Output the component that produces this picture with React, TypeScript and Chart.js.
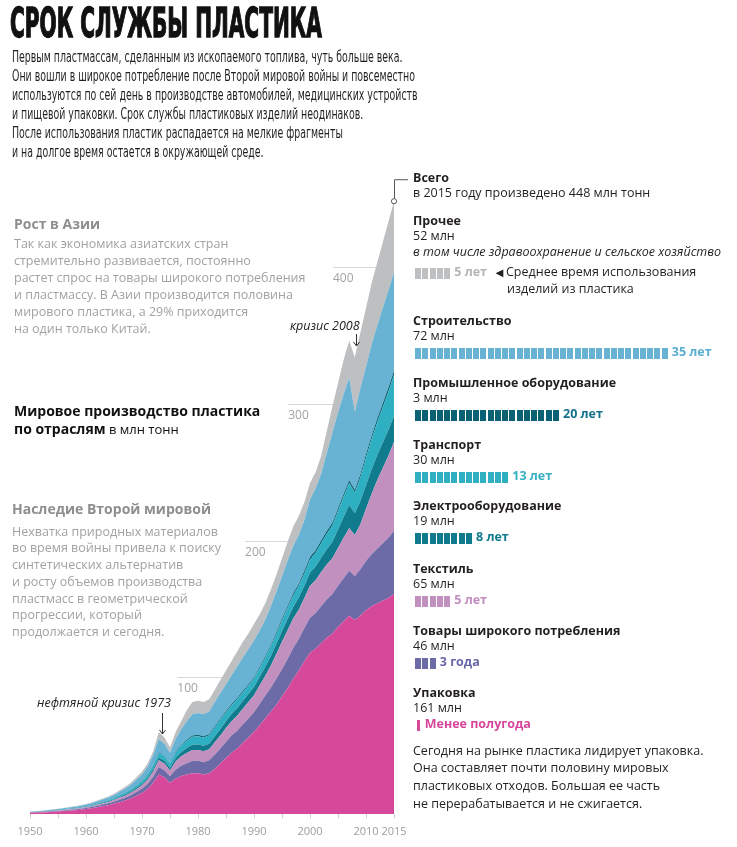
import React, { useEffect, useRef } from "react";
import { Chart, registerables } from "chart.js";

Chart.register(...registerables);

// ---------- DATA ----------
const YEARS = [
  1950, 1951, 1952, 1953, 1954, 1955, 1956, 1957, 1958, 1959,
  1960, 1961, 1962, 1963, 1964, 1965, 1966, 1967, 1968, 1969,
  1970, 1971, 1972, 1973, 1974, 1975, 1976, 1977, 1978, 1979,
  1980, 1981, 1982, 1983, 1984, 1985, 1986, 1987, 1988, 1989,
  1990, 1991, 1992, 1993, 1994, 1995, 1996, 1997, 1998, 1999,
  2000, 2001, 2002, 2003, 2004, 2005, 2006, 2007, 2008, 2009,
  2010, 2011, 2012, 2013, 2014, 2015,
];

// million tonnes per year, by sector (stack order bottom -> top)
const PACKAGING = [
  1, 1.15, 1.3, 1.5, 1.75, 2, 2.3, 2.6, 2.9, 3.3,
  3.8, 4.3, 5, 5.8, 6.6, 7.6, 8.8, 10, 11.5, 13.5,
  15.5, 18.5, 23, 29, 27, 23, 26, 28, 29, 30,
  30, 29, 30, 33, 37, 41, 45, 48, 52, 56,
  60, 65, 70, 75, 80, 86, 92, 99, 105, 112,
  118, 121, 125, 129, 132, 137, 141, 145, 142, 145,
  149, 152, 154, 156, 158, 161,
];
const CONSUMER = [
  0.2, 0.23, 0.26, 0.3, 0.35, 0.4, 0.46, 0.52, 0.6, 0.68,
  0.8, 0.9, 1.05, 1.2, 1.35, 1.55, 1.8, 2, 2.3, 2.7,
  3.1, 3.6, 4.4, 5.5, 5.2, 5, 6.5, 7.5, 8.3, 9,
  9, 9, 9.5, 10.5, 11, 12, 12.5, 13, 13.5, 14,
  14.5, 15.5, 16.5, 17.5, 19, 20, 21.5, 22.5, 23, 24,
  25.5, 26, 27, 28, 29, 30, 31.5, 33, 32, 34,
  36, 38, 40, 42, 44, 46,
];
const TEXTILES = [
  0.2, 0.2, 0.22, 0.25, 0.3, 0.33, 0.38, 0.43, 0.47, 0.52,
  0.6, 0.7, 0.8, 0.9, 1, 1.15, 1.35, 1.55, 1.8, 2.1,
  2.5, 3, 3.8, 5, 4.8, 4, 6, 6.8, 7.5, 8,
  8, 8, 8, 9, 9.5, 10, 10.5, 11, 11.5, 12,
  12.5, 13.5, 14.5, 16, 18, 20, 21, 21.5, 21.5, 22,
  23.5, 24, 25, 25.5, 26, 27.5, 29.5, 31, 30, 33,
  38, 44, 50, 55, 60, 65,
];
const ELECTRICAL = [
  0.1, 0.1, 0.12, 0.13, 0.15, 0.17, 0.19, 0.21, 0.23, 0.26,
  0.3, 0.35, 0.4, 0.45, 0.5, 0.6, 0.7, 0.8, 0.9, 1.05,
  1.2, 1.4, 1.7, 2, 2, 2, 2.5, 3, 3.5, 3.8,
  4, 4, 4, 4.4, 4.7, 5, 5.2, 5.5, 5.7, 5.9,
  6, 6.3, 6.6, 7, 7.4, 7.8, 8.2, 8.5, 8.8, 9,
  9.5, 10, 10.5, 11.2, 12, 13.5, 15, 17, 16, 17,
  17.5, 18, 18.3, 18.6, 18.8, 19,
];
const TRANSPORT = [
  0.1, 0.12, 0.15, 0.18, 0.2, 0.24, 0.28, 0.32, 0.36, 0.4,
  0.5, 0.55, 0.65, 0.75, 0.85, 1, 1.15, 1.3, 1.5, 1.75,
  2, 2.4, 2.9, 3.5, 3.3, 3, 4, 4.7, 5.4, 5.8,
  6, 6, 6.2, 6.6, 6.8, 6.5, 6.3, 6.5, 6.3, 6.1,
  6, 6.2, 6.4, 6.8, 7.2, 7.6, 8, 8.3, 8.6, 9,
  9.5, 10, 10.5, 11.3, 12, 13.5, 15, 16, 15, 17,
  20, 22, 24, 26, 28, 30,
];
const INDUSTRIAL = [
  0.02, 0.02, 0.03, 0.04, 0.05, 0.06, 0.06, 0.07, 0.08, 0.09,
  0.1, 0.1, 0.1, 0.1, 0.1, 0.1, 0.15, 0.15, 0.2, 0.25,
  0.3, 0.35, 0.4, 0.5, 0.5, 0.5, 0.6, 0.7, 0.8, 0.9,
  1, 1, 1, 1, 1, 1, 1, 1, 1, 1,
  1, 1, 1.2, 1.2, 1.4, 1.5, 1.5, 1.6, 1.6, 2,
  2, 2, 2, 2, 2, 2, 2, 2, 2, 2.5,
  2.5, 2.5, 2.7, 2.8, 2.9, 3,
];
const CONSTRUCTION = [
  0.25, 0.3, 0.34, 0.4, 0.47, 0.54, 0.63, 0.7, 0.78, 0.86,
  1, 1.1, 1.4, 1.6, 1.8, 2.1, 2.45, 2.9, 3.3, 3.9,
  4.5, 5.5, 7, 9.5, 8.7, 7.5, 9.4, 11.3, 13.5, 15.5,
  16, 16, 16.3, 17.5, 18.5, 19.5, 21, 23, 24.5, 25.5,
  27, 26.5, 26.8, 28.5, 29.5, 31.1, 33.3, 34.6, 35.5, 37,
  42, 45, 49, 57, 66, 70, 73, 75, 57, 63,
  64, 67, 68, 69.6, 71.3, 72,
];
const OTHER = [
  0.13, 0.18, 0.18, 0.2, 0.23, 0.26, 0.3, 0.35, 0.38, 0.39,
  0.4, 0.5, 0.6, 0.7, 0.8, 0.9, 1.1, 1.3, 1.5, 1.75,
  1.9, 2.25, 2.8, 5, 4.5, 4, 5, 6, 8, 9,
  9, 9, 9, 9, 9.5, 10, 10.5, 11, 11.5, 11.5,
  12, 12, 12, 12, 12.5, 13, 13.5, 14, 14, 13,
  12, 12, 13, 16, 19, 21.5, 25, 27, 40, 40.5,
  43, 44.5, 46, 48, 50, 52,
];

const TOTAL_YEAR = 2015;
const TOTAL_VALUE = 448;

const Y_GRID = [100, 200, 300, 400];
const Y_GRID_FROM_YEAR = [1976.3, 1988.4, 1996.1, 2004.1];
const X_TICK_LABELS = [1950, 1960, 1970, 1980, 1990, 2000, 2010, 2015];
const CRISIS_YEARS = [1973.5, 2008.2];

// legend (right column), top -> bottom
const SECTOR_NAMES = [
  "Прочее",
  "Строительство",
  "Промышленное оборудование",
  "Транспорт",
  "Электрооборудование",
  "Текстиль",
  "Товары широкого потребления",
  "Упаковка",
];
const SECTOR_MT = [52, 72, 3, 30, 19, 65, 46, 161];
const SECTOR_LIFE = [5, 35, 20, 13, 8, 5, 3, 0.5];
const SECTOR_LIFE_LABEL = [
  "5 лет", "35 лет", "20 лет", "13 лет", "8 лет", "5 лет", "3 года", "Менее полугода",
];

// ---------- STYLE ----------
const COL = {
  packaging: "#d6489a",
  consumer: "#6d6aa8",
  textiles: "#c290bf",
  electrical: "#117b8e",
  transport: "#2fb0c2",
  industrial: "#0a6174",
  construction: "#68b2d4",
  other: "#bebfc1",
};
const SECTOR_COLORS = [
  COL.other, COL.construction, COL.industrial, COL.transport,
  COL.electrical, COL.textiles, COL.consumer, COL.packaging,
];
const SECTOR_TEXT_COLORS = [
  "#b5b5b5", "#5aaed3", "#13708a", "#36b0c3", "#0f7a8e", "#c18ebf", "#6866a6", "#d6459a",
];
const SECTOR_Y = [222, 322, 384, 446, 507, 570, 632, 694];

const SANS = "'Open Sans', 'Noto Sans', sans-serif";
const NARROW = "'Liberation Sans Narrow', 'DejaVu Sans Condensed', sans-serif";
const DARK = "#231f20";

type TxtProps = {
  x: number;
  y: number;
  size?: number;
  bold?: boolean;
  italic?: boolean;
  color?: string;
  family?: string;
  children?: any;
};
function Txt({ x, y, size = 12.5, bold, italic, color = DARK, family = SANS, children }: TxtProps) {
  const lh = Math.round(size * 1.4);
  return (
    <div
      style={{
        position: "absolute",
        left: x,
        top: y - lh / 2 - size * 0.1,
        height: lh,
        lineHeight: lh + "px",
        fontSize: size,
        fontWeight: bold ? 700 : 400,
        fontStyle: italic ? "italic" : "normal",
        color,
        fontFamily: family,
        whiteSpace: "nowrap",
      }}
    >
      {children}
    </div>
  );
}

const INTRO = [
  "Первым пластмассам, сделанным из ископаемого топлива, чуть больше века.",
  "Они вошли в широкое потребление после Второй мировой войны и повсеместно",
  "используются по сей день в производстве автомобилей, медицинских устройств",
  "и пищевой упаковки. Срок службы пластиковых изделий неодинаков.",
  "После использования пластик распадается на мелкие фрагменты",
  "и на долгое время остается в окружающей среде.",
];
const ASIA = [
  "Так как экономика азиатских стран",
  "стремительно развивается, постоянно",
  "растет спрос на товары широкого потребления",
  "и пластмассу. В Азии производится половина",
  "мирового пластика, а 29% приходится",
  "на один только Китай.",
];
const WW2 = [
  "Нехватка природных материалов",
  "во время войны привела к поиску",
  "синтетических альтернатив",
  "и росту объемов производства",
  "пластмасс в геометрической",
  "прогрессии, который",
  "продолжается и сегодня.",
];
const PACK_NOTE = [
  "Сегодня на рынке пластика лидирует упаковка.",
  "Она составляет почти половину мировых",
  "пластиковых отходов. Большая ее часть",
  "не перерабатывается и не сжигается.",
];

function StackChart() {
  const ref = useRef<HTMLCanvasElement | null>(null);
  useEffect(() => {
    if (!ref.current) return;
    const series = [
      { label: "Упаковка", data: PACKAGING, color: COL.packaging },
      { label: "Товары широкого потребления", data: CONSUMER, color: COL.consumer },
      { label: "Текстиль", data: TEXTILES, color: COL.textiles },
      { label: "Электрооборудование", data: ELECTRICAL, color: COL.electrical },
      { label: "Транспорт", data: TRANSPORT, color: COL.transport },
      { label: "Промышленное оборудование", data: INDUSTRIAL, color: COL.industrial },
      { label: "Строительство", data: CONSTRUCTION, color: COL.construction },
      { label: "Прочее", data: OTHER, color: COL.other },
    ];
    const decor = {
      id: "decor",
      beforeDatasetsDraw(chart: any) {
        const { ctx, chartArea, scales } = chart;
        const xs = scales.x;
        const ys = scales.y;
        ctx.save();
        ctx.strokeStyle = "#d8d8d8";
        ctx.lineWidth = 1;
        ctx.fillStyle = "#a3a3a3";
        ctx.font = "12px 'Open Sans', sans-serif";
        ctx.textBaseline = "middle";
        ctx.textAlign = "left";
        Y_GRID.forEach((v, i) => {
          const y = Math.round(ys.getPixelForValue(v)) + 0.5;
          const x0 = xs.getPixelForValue(Y_GRID_FROM_YEAR[i]);
          ctx.beginPath();
          ctx.moveTo(x0, y);
          ctx.lineTo(chartArea.right, y);
          ctx.stroke();
          ctx.fillText(String(v), x0, y + 11);
        });
        ctx.restore();
      },
      afterDatasetsDraw(chart: any) {
        const { ctx, scales } = chart;
        const xs = scales.x;
        const ys = scales.y;
        ctx.save();
        // total marker + connector
        const cx = xs.getPixelForValue(TOTAL_YEAR);
        const cy = ys.getPixelForValue(TOTAL_VALUE);
        ctx.strokeStyle = "#555";
        ctx.lineWidth = 1;
        ctx.beginPath();
        ctx.moveTo(cx + 0.5, cy - 3);
        ctx.lineTo(cx + 0.5, cy - 21.5);
        ctx.lineTo(cx + 14, cy - 21.5);
        ctx.stroke();
        ctx.beginPath();
        ctx.arc(cx, cy, 2.6, 0, Math.PI * 2);
        ctx.fillStyle = "#fff";
        ctx.fill();
        ctx.stroke();
        // crisis arrows
        const arrows = [
          { x: xs.getPixelForValue(CRISIS_YEARS[0]), y0: 713, y1: 734 },
          { x: xs.getPixelForValue(CRISIS_YEARS[1]), y0: 334, y1: 346 },
        ];
        ctx.strokeStyle = "#333";
        arrows.forEach((a) => {
          const x = Math.round(a.x) + 0.5;
          ctx.beginPath();
          ctx.moveTo(x, a.y0);
          ctx.lineTo(x, a.y1);
          ctx.moveTo(x - 3, a.y1 - 4);
          ctx.lineTo(x, a.y1);
          ctx.lineTo(x + 3, a.y1 - 4);
          ctx.stroke();
        });
        ctx.restore();
      },
    };
    const chart = new Chart(ref.current, {
      type: "line",
      data: {
        labels: YEARS,
        datasets: series.map((s, i) => ({
          label: s.label,
          data: s.data,
          backgroundColor: s.color,
          borderColor: s.color,
          borderWidth: 0,
          pointRadius: 0,
          tension: 0,
          fill: i === 0 ? "origin" : "-1",
        })),
      },
      options: {
        animation: false,
        responsive: false,
        events: [],
        layout: { padding: { left: 30, right: 343, top: 198.5, bottom: 1.6 } },
        plugins: { legend: { display: false }, tooltip: { enabled: false } },
        scales: {
          x: {
            type: "linear",
            min: 1950,
            max: 2015,
            offset: false,
            border: { display: false },
            grid: { drawOnChartArea: false, drawTicks: true, tickLength: 4, color: "#cfcfcf" },
            ticks: {
              stepSize: 5,
              autoSkip: false,
              maxRotation: 0,
              padding: 7,
              color: "#9d9d9d",
              font: { family: "'Open Sans', sans-serif", size: 11 },
              callback: (v: any) => (X_TICK_LABELS.includes(Number(v)) ? String(v) : ""),
            },
          },
          y: {
            display: false,
            stacked: true,
            min: 0,
            max: 450,
          },
        },
      },
      plugins: [decor],
    } as any);
    return () => chart.destroy();
  }, []);
  return (
    <canvas
      ref={ref}
      width={737}
      height={847}
      style={{ position: "absolute", left: 0, top: 0, width: 737, height: 847 }}
    />
  );
}

export default function App() {
  const PITCH = 7.25;
  const BAR_X = 415;
  return (
    <div
      style={{
        position: "absolute",
        left: 0,
        top: 0,
        width: 737,
        height: 847,
        background: "#fff",
        overflow: "hidden",
      }}
    >
      <StackChart />

      {/* title */}
      <div
        style={{
          position: "absolute",
          left: 10,
          top: 3,
          fontFamily: NARROW,
          fontWeight: 700,
          fontSize: 40,
          lineHeight: "40px",
          color: "#111",
          whiteSpace: "nowrap",
          WebkitTextStroke: "1.3px #111",
          transform: "scaleX(0.56)",
          transformOrigin: "left top",
        }}
      >
        СРОК СЛУЖБЫ ПЛАСТИКА
      </div>

      {/* intro */}
      <div
        style={{
          position: "absolute",
          left: 12,
          top: 48,
          fontFamily: NARROW,
          fontSize: 16,
          lineHeight: "18.9px",
          color: DARK,
          whiteSpace: "pre",
          transform: "scaleX(0.653)",
          transformOrigin: "left top",
        }}
      >
        {INTRO.join("\n")}
      </div>

      {/* Asia */}
      <Txt x={14} y={225} size={14} bold color="#8e8e8e">Рост в Азии</Txt>
      {ASIA.map((l, i) => (
        <Txt key={"a" + i} x={14} y={245 + i * 17.1} size={12.5} color="#a2a2a2">{l}</Txt>
      ))}

      {/* main label */}
      <Txt x={14} y={412} size={14} bold color="#111">Мировое производство пластика</Txt>
      <Txt x={14} y={430} size={14} color="#111">
        <b>по отраслям</b>
        <span style={{ fontWeight: 400, fontSize: 13 }}> в млн тонн</span>
      </Txt>

      {/* WWII */}
      <Txt x={12} y={510} size={14} bold color="#8e8e8e">Наследие Второй мировой</Txt>
      {WW2.map((l, i) => (
        <Txt key={"w" + i} x={12} y={533 + i * 16.7} size={12.5} color="#a2a2a2">{l}</Txt>
      ))}

      {/* crisis notes */}
      <Txt x={37} y={704} size={12.5} italic color="#222">нефтяной кризис 1973</Txt>
      <Txt x={290} y={327} size={12.5} italic color="#222">кризис 2008</Txt>

      {/* total */}
      <Txt x={413} y={179} size={12.5} bold>Всего</Txt>
      <Txt x={413} y={194} size={12.5}>в 2015 году произведено 448 млн тонн</Txt>

      {/* sectors */}
      {SECTOR_NAMES.map((name, i) => {
        const y = SECTOR_Y[i];
        const isOther = i === 0;
        const barY = isOther ? y + 51 : y + 31;
        const life = SECTOR_LIFE[i];
        const n = Math.ceil(life);
        const squares = [];
        for (let k = 0; k < n; k++) {
          const w = life - k >= 1 ? 6 : Math.max(2.5, (life - k) * PITCH);
          squares.push(
            <div
              key={k}
              style={{
                position: "absolute",
                left: BAR_X + k * PITCH + (life < 1 ? 1.5 : 0),
                top: barY - 5.5,
                width: w,
                height: 11,
                background: SECTOR_COLORS[i],
              }}
            />
          );
        }
        return (
          <React.Fragment key={name}>
            <Txt x={413} y={y} size={12.5} bold>{name}</Txt>
            <Txt x={413} y={y + 15.5} size={12.5}>{SECTOR_MT[i]} млн</Txt>
            {isOther && (
              <Txt x={413} y={y + 31} size={12.5} italic>в том числе здравоохранение и сельское хозяйство</Txt>
            )}
            {squares}
            <Txt x={BAR_X + n * PITCH + (life < 1 ? 2.5 : 3)} y={barY} size={12.5} bold color={SECTOR_TEXT_COLORS[i]}>
              {SECTOR_LIFE_LABEL[i]}
            </Txt>
          </React.Fragment>
        );
      })}
      <Txt x={493} y={273} size={13} color="#222">◄</Txt>
      <Txt x={506} y={273} size={12.5}>Среднее время использования</Txt>
      <Txt x={507} y={290} size={12.5}>изделий из пластика</Txt>

      {PACK_NOTE.map((l, i) => (
        <Txt key={"p" + i} x={413} y={752 + i * 17.7} size={12.5}>{l}</Txt>
      ))}
    </div>
  );
}
